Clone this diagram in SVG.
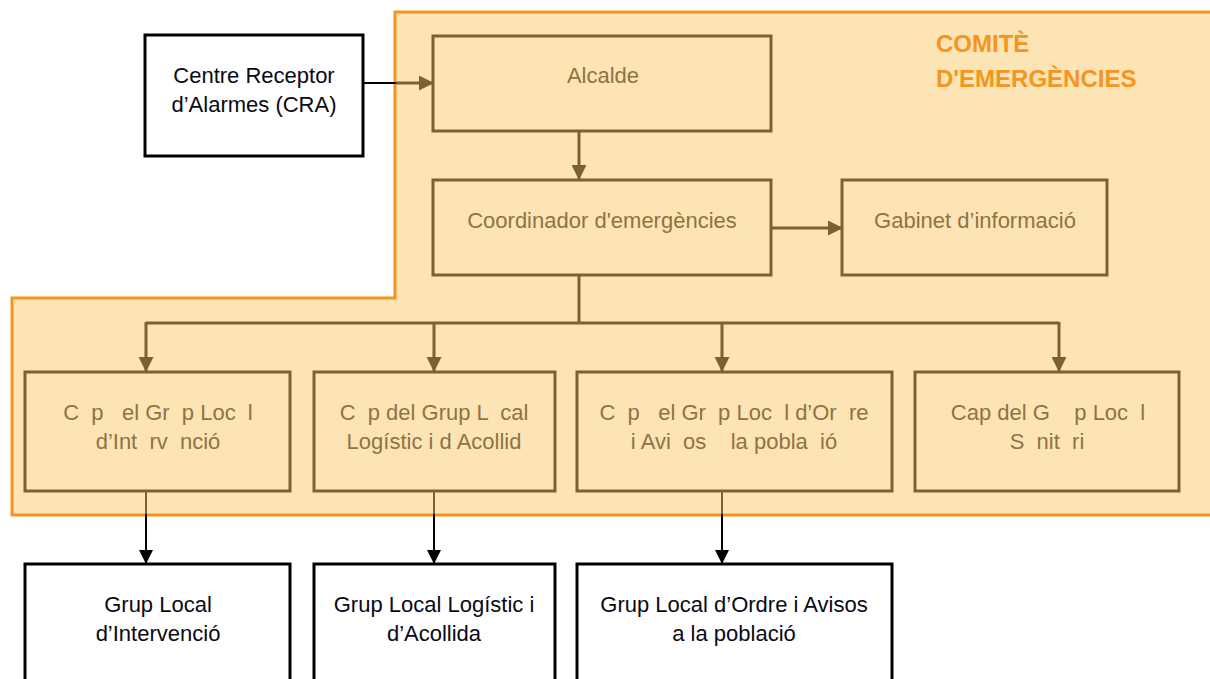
<svg xmlns="http://www.w3.org/2000/svg" width="1210" height="679" viewBox="0 0 1210 679">
<style>
.bx{fill:#FCE4B4;stroke:#7B6234;stroke-width:3}
.wb{fill:#fff;stroke:#000;stroke-width:3}
.t{font-family:"Liberation Sans",Arial,sans-serif;font-size:22px;text-anchor:middle;white-space:pre}
.tb{fill:#8E7444}
.tk{fill:#0a0a14}
.bc{stroke:#7B6234;stroke-width:3;fill:none}
.kc{stroke:#000;stroke-width:2;fill:none}
.ti{font-family:"Liberation Sans",Arial,sans-serif;font-size:24px;font-weight:bold;fill:#F7941D}
</style>
<defs>
<marker id="ak" markerWidth="14" markerHeight="14" refX="13" refY="7" orient="auto" markerUnits="userSpaceOnUse" viewBox="0 0 14 14">
<path d="M0,0 L14,7 L0,14 z" fill="#000"/>
</marker>
<marker id="ab2" markerWidth="15" markerHeight="15" refX="14" refY="7.5" orient="auto" markerUnits="userSpaceOnUse" viewBox="0 0 15 15">
<path d="M0,0 L15,7.5 L0,15 z" fill="#7B6234"/>
</marker>
</defs>
<g id="comite">
<path d="M395,12 H1212 V515 H12 V298 H395 Z" fill="#FCE4B4" stroke="#F7941D" stroke-width="3"/>
<text x="936" y="52" class="ti">COMITÈ</text>
<text x="936" y="87" class="ti">D'EMERGÈNCIES</text>
</g>
<g id="connectors">
<line x1="362" y1="83" x2="396" y2="83" class="kc"/>
<line x1="396" y1="83" x2="433" y2="83" class="bc" stroke-width="2" marker-end="url(#ab2)"/>
<line x1="579" y1="131" x2="579" y2="179" class="bc" stroke-width="2" marker-end="url(#ab2)"/>
<line x1="770" y1="228" x2="842" y2="228" class="bc" marker-end="url(#ab2)"/>
<line x1="579" y1="275" x2="579" y2="323" class="bc"/>
<line x1="146" y1="323" x2="1059" y2="323" class="bc"/>
<line x1="146" y1="322" x2="146" y2="371" class="bc" stroke-width="2" marker-end="url(#ab2)"/>
<line x1="434" y1="322" x2="434" y2="371" class="bc" stroke-width="2" marker-end="url(#ab2)"/>
<line x1="722" y1="322" x2="722" y2="371" class="bc" stroke-width="2" marker-end="url(#ab2)"/>
<line x1="1059" y1="322" x2="1059" y2="371" class="bc" stroke-width="2" marker-end="url(#ab2)"/>
<line x1="146" y1="492" x2="146" y2="514" stroke="#7B6234" stroke-width="2"/>
<line x1="434" y1="492" x2="434" y2="514" stroke="#7B6234" stroke-width="2"/>
<line x1="722" y1="492" x2="722" y2="514" stroke="#7B6234" stroke-width="2"/>
<line x1="146" y1="514" x2="146" y2="563" class="kc" marker-end="url(#ak)"/>
<line x1="434" y1="514" x2="434" y2="563" class="kc" marker-end="url(#ak)"/>
<line x1="722" y1="514" x2="722" y2="563" class="kc" marker-end="url(#ak)"/>
</g>
<g id="cra">
<rect x="145" y="35" width="218" height="121" class="wb"/>
<text x="254" y="83" class="t tk">Centre Receptor</text>
<text x="254" y="112" class="t tk">d’Alarmes (CRA)</text>
</g>
<g id="alcalde">
<rect x="433" y="36" width="338" height="95" class="bx"/>
<text x="603" y="83" class="t tb">Alcalde</text>
</g>
<g id="coordinador">
<rect x="433" y="180" width="338" height="95" class="bx"/>
<text x="602" y="228" class="t tb">Coordinador d'emergències</text>
</g>
<g id="gabinet">
<rect x="842" y="180" width="265" height="95" class="bx"/>
<text x="975" y="228" class="t tb">Gabinet d’informació</text>
</g>
<g id="cap-intervencio">
<rect x="25" y="372" width="265" height="119" class="bx"/>
<text x="158" y="420" class="t tb">C  p   el Gr  p Loc  l</text>
<text x="158" y="449" class="t tb">d’Int  rv  nció</text>
</g>
<g id="cap-logistic">
<rect x="314" y="372" width="241" height="119" class="bx"/>
<text x="434" y="420" class="t tb">C  p del Grup L  cal</text>
<text x="434" y="449" class="t tb">Logístic i d Acollid</text>
</g>
<g id="cap-ordre">
<rect x="577" y="372" width="315" height="119" class="bx"/>
<text x="734" y="420" class="t tb">C  p   el Gr  p Loc  l d’Or  re</text>
<text x="734" y="449" class="t tb">i Avi  os    la pobla  ió</text>
</g>
<g id="cap-sanitari">
<rect x="915" y="372" width="264" height="119" class="bx"/>
<text x="1048" y="420" class="t tb">Cap del G    p Loc  l</text>
<text x="1047" y="449" class="t tb">S  nit  ri</text>
</g>
<g id="grup-intervencio">
<rect x="25" y="564" width="265" height="125" class="wb"/>
<text x="158" y="612" class="t tk">Grup Local</text>
<text x="158" y="641" class="t tk">d’Intervenció</text>
</g>
<g id="grup-logistic">
<rect x="314" y="564" width="241" height="125" class="wb"/>
<text x="434" y="612" class="t tk">Grup Local Logístic i</text>
<text x="434" y="641" class="t tk">d’Acollida</text>
</g>
<g id="grup-ordre">
<rect x="577" y="564" width="315" height="125" class="wb"/>
<text x="734" y="612" class="t tk">Grup Local d’Ordre i Avisos</text>
<text x="734" y="641" class="t tk">a la població</text>
</g>
</svg>
